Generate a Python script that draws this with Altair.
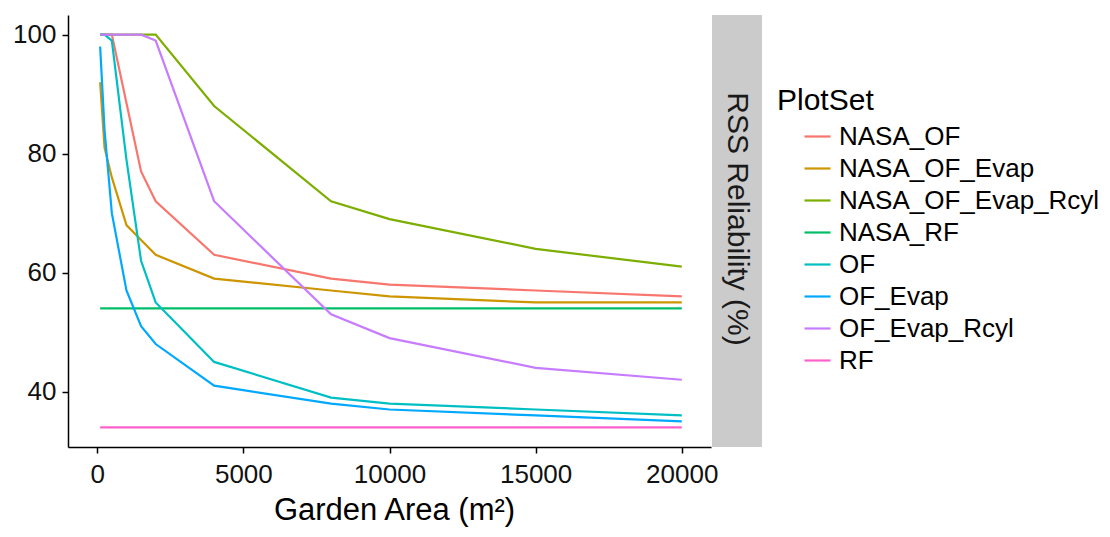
import altair as alt
import pandas as pd

# ---- data ----
garden_area = [100, 250, 500, 1000, 1500, 2000, 4000, 8000, 10000, 15000, 20000]

series_names = ["NASA_OF", "NASA_OF_Evap", "NASA_OF_Evap_Rcyl", "NASA_RF",
                "OF", "OF_Evap", "OF_Evap_Rcyl", "RF"]
series_colors = ["#F8766D", "#CD9600", "#7CAE00", "#00BE67",
                 "#00BFC4", "#00A9FF", "#C77CFF", "#FF61CC"]

nasa_of = [100, 100, 100, 88.5, 77, 72, 63, 59, 58, 57, 56]
nasa_of_evap = [92, 81, 76, 68, 65.5, 63, 59, 57, 56, 55, 55]
nasa_of_evap_rcyl = [100, 100, 100, 100, 100, 100, 88, 72, 69, 64, 61]
nasa_rf = [54, 54, 54, 54, 54, 54, 54, 54, 54, 54, 54]
of = [100, 100, 99, 79, 62, 55, 45, 39, 38, 37, 36]
of_evap = [98, 84, 70, 57, 51, 48, 41, 38, 37, 36, 35]
of_evap_rcyl = [100, 100, 100, 100, 100, 99, 72, 53, 49, 44, 42]
rf = [34, 34, 34, 34, 34, 34, 34, 34, 34, 34, 34]

x_ticks = [0, 5000, 10000, 15000, 20000]
y_ticks = [40, 60, 80, 100]
strip_label = "RSS Reliability (%)"

values = [nasa_of, nasa_of_evap, nasa_of_evap_rcyl, nasa_rf,
          of, of_evap, of_evap_rcyl, rf]
rows = []
for name, vals in zip(series_names, values):
    for a, v in zip(garden_area, vals):
        rows.append({"area": a, "rel": v, "PlotSet": name})
df = pd.DataFrame(rows)

W, H = 643, 432
FONT = "Liberation Sans"

lines = alt.Chart(df).mark_line(strokeWidth=2.2).encode(
    x=alt.X("area:Q",
            scale=alt.Scale(domain=[-1000, 21000], nice=False, zero=False),
            axis=alt.Axis(values=x_ticks, format="d", title="Garden Area (m²)",
                          labelFontSize=26, titleFontSize=31, titleFontWeight="normal",
                          labelPadding=8, titlePadding=8, tickSize=6, titleX=326,
                          labelColor="#111111", titleColor="#000000",
                          domainColor="#000000", tickColor="#000000",
                          domainWidth=1.5, tickWidth=1.5, grid=False, labelFlush=False)),
    y=alt.Y("rel:Q",
            scale=alt.Scale(domain=[30.7, 103.3], nice=False, zero=False),
            axis=alt.Axis(values=y_ticks, title=None,
                          labelFontSize=26, labelPadding=6, tickSize=6,
                          labelColor="#111111",
                          domainColor="#000000", tickColor="#000000",
                          domainWidth=1.5, tickWidth=1.5, grid=False)),
    color=alt.Color("PlotSet:N",
                    scale=alt.Scale(domain=series_names, range=series_colors),
                    legend=alt.Legend(orient="none", legendX=709, legendY=71,
                                      title="PlotSet", titleFontSize=30,
                                      titleFontWeight="normal", titleColor="#000000",
                                      titlePadding=6,
                                      labelFontSize=26, labelColor="#000000",
                                      labelLimit=500,
                                      symbolType="stroke", symbolSize=676,
                                      symbolStrokeWidth=2.2, symbolOffset=26,
                                      labelOffset=7, rowPadding=4, padding=0)),
)

strip_df = pd.DataFrame({"label": [strip_label]})
strip_rect = alt.Chart(strip_df).mark_rect(color="#CBCBCB").encode(
    x=alt.value(W + 1), x2=alt.value(W + 51),
    y=alt.value(0), y2=alt.value(H),
)
strip_text = alt.Chart(strip_df).mark_text(
    angle=90, fontSize=30, font=FONT, color="#1a1a1a",
    align="center", baseline="middle"
).encode(
    x=alt.value(W + 26), y=alt.value(204), text="label:N"
)

chart = alt.layer(lines, strip_rect, strip_text).properties(
    width=W, height=H,
    autosize=alt.AutoSizeParams(type="none"),
    padding={"left": 60, "top": 7, "right": 391, "bottom": 82},
).configure(font=FONT).configure_view(stroke=None)

chart.save("out.html", embed_options={"renderer": "svg", "actions": False})
